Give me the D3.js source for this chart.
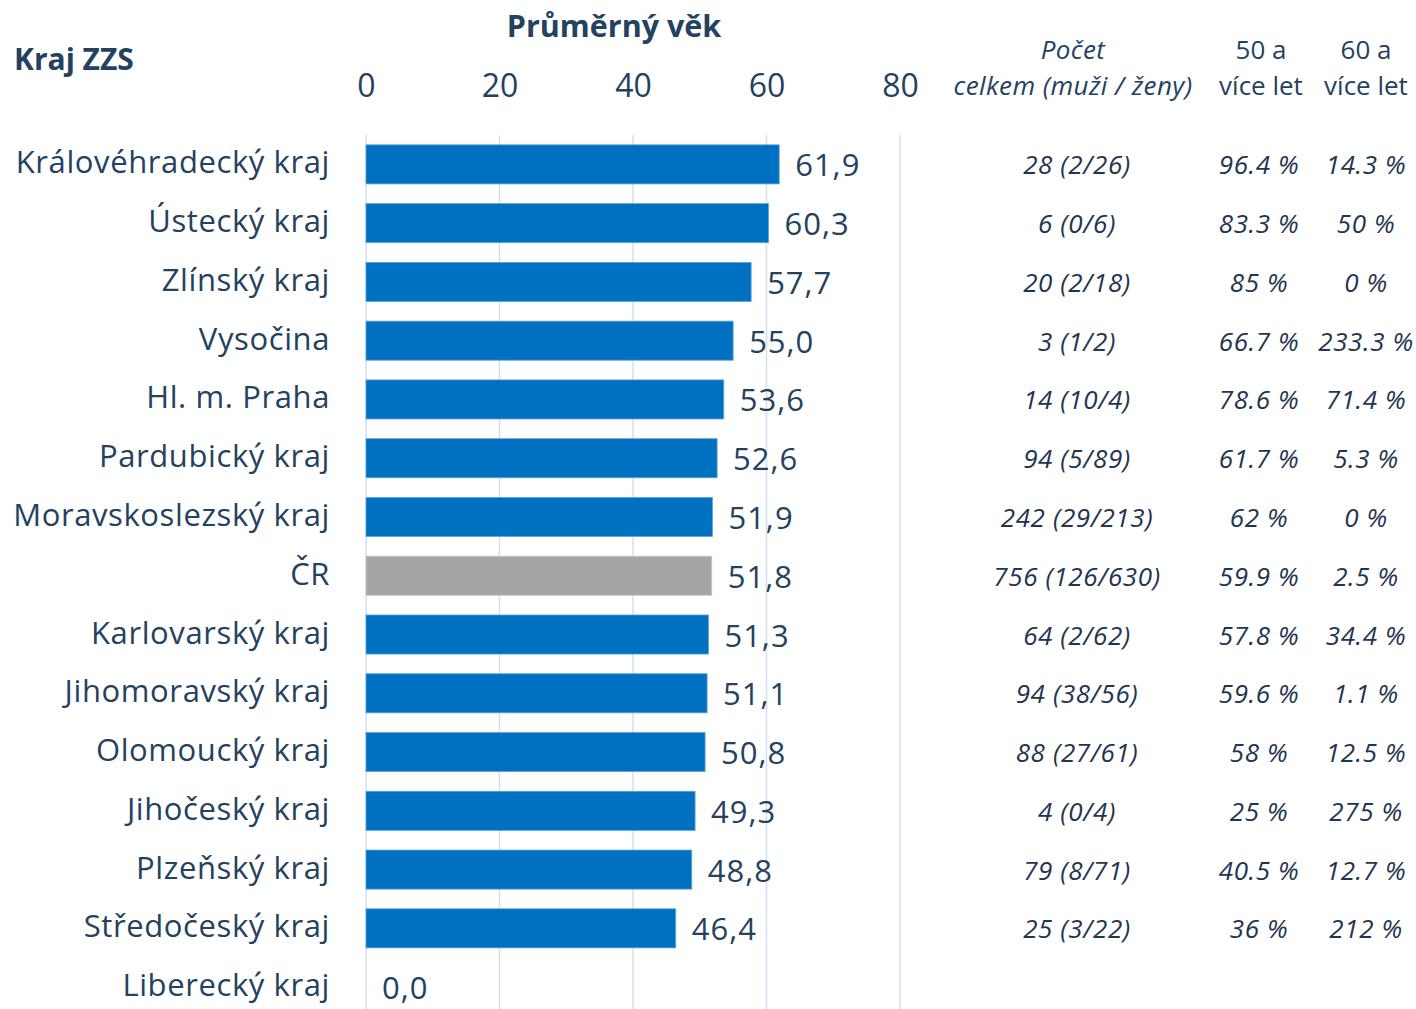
<!DOCTYPE html>
<html><head><meta charset="utf-8">
<script src="https://cdn.jsdelivr.net/npm/d3@7"></script>
<style>
html,body{margin:0;padding:0;background:#fff;}
svg{display:block;}
text{font-family:"Open Sans",sans-serif;}
</style></head>
<body>
<svg id="chart" width="1416" height="1009"></svg>
<script>
const regions = ["Královéhradecký kraj","Ústecký kraj","Zlínský kraj","Vysočina","Hl. m. Praha","Pardubický kraj","Moravskoslezský kraj","ČR","Karlovarský kraj","Jihomoravský kraj","Olomoucký kraj","Jihočeský kraj","Plzeňský kraj","Středočeský kraj","Liberecký kraj"];
const avgAge = [61.9,60.3,57.7,55.0,53.6,52.6,51.9,51.8,51.3,51.1,50.8,49.3,48.8,46.4,0.0];
const counts = ["28 (2/26)","6 (0/6)","20 (2/18)","3 (1/2)","14 (10/4)","94 (5/89)","242 (29/213)","756 (126/630)","64 (2/62)","94 (38/56)","88 (27/61)","4 (0/4)","79 (8/71)","25 (3/22)",""];
const pct50 = ["96.4 %","83.3 %","85 %","66.7 %","78.6 %","61.7 %","62 %","59.9 %","57.8 %","59.6 %","58 %","25 %","40.5 %","36 %",""];
const pct60 = ["14.3 %","50 %","0 %","233.3 %","71.4 %","5.3 %","0 %","2.5 %","34.4 %","1.1 %","12.5 %","275 %","12.7 %","212 %",""];
const xTicks = [0,20,40,60,80];

const svg = d3.select("#chart");
const textColor = "#24425f";
const x = d3.scaleLinear().domain([0,80]).range([366,900]);
const y = d3.scaleBand().domain(regions).range([135,1016.5]).paddingInner(0.335).paddingOuter(0.1675);
const fmt = v => v.toFixed(1).replace(".", ",");

// gridlines
svg.append("g").selectAll("line").data(xTicks).join("line")
  .attr("x1", d=>x(d)).attr("x2", d=>x(d)).attr("y1",135).attr("y2",1009)
  .attr("stroke","#d6e0ea").attr("stroke-width",1.5);

// axis tick labels
const axis = d3.axisTop(x).tickValues(xTicks).tickSize(0).tickPadding(0).tickFormat(d3.format("d"));
const ag = svg.append("g").attr("transform","translate(0,97)").call(axis);
ag.select(".domain").remove();
ag.selectAll("text").attr("font-size",32).attr("fill",textColor).attr("font-family","'Open Sans', sans-serif");

// bars
svg.append("g").selectAll("rect").data(regions).join("rect")
  .attr("x", x(0)).attr("y", d=>y(d)).attr("height", y.bandwidth())
  .attr("width", (d,i)=>x(avgAge[i])-x(0))
  .attr("fill", d=> d==="ČR" ? "#a5a5a5" : "#0070c0")
  .attr("stroke", d=> d==="ČR" ? "#c8c8c8" : "#5fa3dc").attr("stroke-width",0.8);

// value labels
svg.append("g").selectAll("text").data(regions).join("text")
  .attr("x", (d,i)=>x(avgAge[i])+16).attr("y", d=>y(d)+y.bandwidth()/2+12)
  .attr("font-size",31).attr("letter-spacing",1).attr("fill",textColor)
  .text((d,i)=>fmt(avgAge[i]));

// category labels
svg.append("g").selectAll("text").data(regions).join("text")
  .attr("x", 330).attr("y", d=>y(d)+y.bandwidth()/2+9)
  .attr("text-anchor","end").attr("font-size",31).attr("letter-spacing",0.6).attr("fill",textColor)
  .text(d=>d);

// table columns
const cols = [{data:counts,cx:1077},{data:pct50,cx:1259},{data:pct60,cx:1366}];
cols.forEach(c=>{
  svg.append("g").selectAll("text").data(regions).join("text")
    .attr("x", c.cx).attr("y", d=>y(d)+y.bandwidth()/2+10)
    .attr("text-anchor","middle").attr("font-size",26).attr("letter-spacing",0.6).attr("font-style","italic")
    .attr("fill","#1f3550")
    .text((d,i)=>c.data[i]);
});

// headers
svg.append("text").attr("x",14).attr("y",70).attr("font-size",30).attr("font-weight","bold").attr("fill",textColor).text("Kraj ZZS");
svg.append("text").attr("x",614).attr("y",37).attr("text-anchor","middle").attr("font-size",30.5).attr("font-weight","bold").attr("fill",textColor).text("Průměrný věk");
const h1 = svg.append("text").attr("text-anchor","middle").attr("font-size",26).attr("letter-spacing",0.4).attr("font-style","italic").attr("fill",textColor);
h1.append("tspan").attr("x",1073).attr("y",59).text("Počet");
h1.append("tspan").attr("x",1073).attr("y",95).text("celkem (muži / ženy)");
[[1261,"50 a"],[1366,"60 a"]].forEach(([cx,t])=>{
  const h = svg.append("text").attr("text-anchor","middle").attr("font-size",26).attr("fill",textColor);
  h.append("tspan").attr("x",cx).attr("y",59).text(t);
  h.append("tspan").attr("x",cx).attr("y",95).text("více let");
});
</script>
</body></html>
